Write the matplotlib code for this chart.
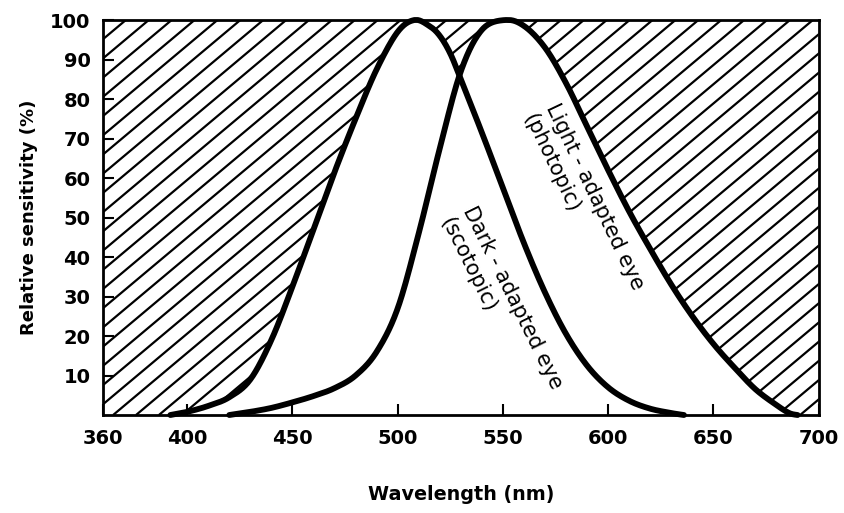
import matplotlib
matplotlib.use('Agg')
import matplotlib.pyplot as plt
import numpy as np
from matplotlib.collections import LineCollection

# Dark-adapted (scotopic) curve
scot_wl = [392, 400, 410, 420, 430, 440, 450, 460, 470, 480, 490, 500, 508,
           515, 520, 525, 530, 540, 550, 560, 570, 580, 590, 600, 610, 620, 630, 636]
scot_val = [0, 0.8, 2.3, 4.5, 9, 19, 32.5, 47, 61.5, 75, 87.5, 97, 100,
            98.5, 96, 91.5, 85, 71.5, 57.5, 43.5, 31, 20.5, 12.5, 7, 3.6, 1.6, 0.5, 0]

# Light-adapted (photopic) curve
phot_wl = [420, 430, 440, 450, 460, 470, 480, 490, 500, 510, 520, 530, 540,
           551, 560, 570, 580, 590, 600, 610, 620, 630, 640, 650, 660,
           670, 680, 686, 690]
phot_val = [0, 0.8, 1.8, 3.2, 4.8, 6.8, 10, 16, 27, 46, 67.5, 87, 97.5,
            100, 98.5, 93, 84, 73, 62, 51.5, 42, 33, 25, 18, 12,
            6.5, 2.5, 0.5, 0]

x_ticks = [360, 400, 450, 500, 550, 600, 650, 700]
x_labels = ['360', '400', '450', '500', '550', '600', '650', '700']
y_ticks = [10, 20, 30, 40, 50, 60, 70, 80, 90, 100]
y_labels = ['10', '20', '30', '40', '50', '60', '70', '80', '90', '100']


def smooth(xs, ys, n=24):
    """Draw a smooth (Catmull-Rom / cubic Bezier) line through the read points."""
    p = np.column_stack([xs, ys]).astype(float)
    p = np.vstack([p[0], p, p[-1]])
    out = []
    t = np.linspace(0, 1, n, endpoint=False)[:, None]
    for i in range(1, len(p) - 2):
        a, b = p[i], p[i + 1]
        c1 = a + (p[i + 1] - p[i - 1]) / 6
        c2 = b - (p[i + 2] - p[i]) / 6
        seg = ((1 - t) ** 3) * a + 3 * ((1 - t) ** 2) * t * c1 + 3 * (1 - t) * t ** 2 * c2 + t ** 3 * b
        out.append(seg)
    out.append(p[-1][None, :])
    q = np.vstack(out)
    return q[:, 0], np.clip(q[:, 1], 0, 100)


fig = plt.figure(figsize=(8.44, 5.13), dpi=100)
ax = fig.add_axes([0.122, 0.191, 0.848, 0.770])
ax.set_xlim(360, 700)
ax.set_ylim(0, 100)

sx, sy = smooth(scot_wl, scot_val)
px, py = smooth(phot_wl, phot_val)

# hatched region above both curves
grid = np.unique(np.concatenate([[360, 700], sx, px]))
env = np.maximum(np.interp(grid, sx, sy, left=0, right=0),
                 np.interp(grid, px, py, left=0, right=0))
fill = ax.fill_between(grid, env, 100, facecolor='none', edgecolor='none', linewidth=0)
clip = fill.get_paths()[0]

ax_w = 0.848 * 844
ax_h = 0.770 * 513
slope = np.tan(np.radians(40)) * ax_w / ax_h
step = 22.9 / ax_w
segs = [[(x0, 0), (x0 + 1 / slope, 1)] for x0 in np.arange(-1 / slope - step, 1 + step, step)]
lc = LineCollection(segs, colors='black', linewidths=1.6, transform=ax.transAxes)
ax.add_collection(lc, autolim=False)
lc.set_clip_path(clip, ax.transData)

ax.plot(sx, sy, color='black', lw=4.2, solid_capstyle='round',
        solid_joinstyle='round', clip_on=False, zorder=3)
ax.plot(px, py, color='black', lw=4.2, solid_capstyle='round',
        solid_joinstyle='round', clip_on=False, zorder=3)

for s in ax.spines.values():
    s.set_linewidth(2)

ax.set_xticks(x_ticks)
ax.set_xticklabels(x_labels)
ax.set_yticks(y_ticks)
ax.set_yticklabels(y_labels)
ax.tick_params(direction='in', length=8, width=1.5, labelsize=14)
ax.tick_params(axis='x', pad=10)
ax.tick_params(axis='y', pad=9)
for lab in ax.get_xticklabels() + ax.get_yticklabels():
    lab.set_fontweight('bold')

ax.set_xlabel('Wavelength (nm)', fontsize=13.8, fontweight='bold', labelpad=27)
ax.set_ylabel('Relative sensitivity (%)', fontsize=13, fontweight='bold', labelpad=9)

ax.text(577, 79.7, 'Light - adapted eye\n(photopic)', rotation=-64.6,
        rotation_mode='anchor', ha='left', va='top', multialignment='left',
        fontsize=15, linespacing=1.3, fontweight='medium', zorder=4)
ax.text(537.6, 53.7, 'Dark - adapted eye\n(scotopic)', rotation=-63.7,
        rotation_mode='anchor', ha='left', va='top', multialignment='left',
        fontsize=15, linespacing=1.3, fontweight='medium', zorder=4)

fig.savefig('out.png', dpi=100)
